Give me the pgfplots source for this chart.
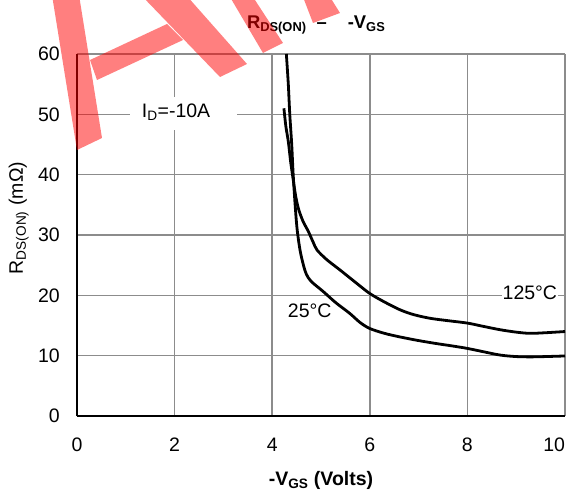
\documentclass[border=0pt]{standalone}
\usepackage{pgfplots}
\pgfplotsset{compat=1.18}
\usepackage{fontspec}
\setmainfont{Liberation Sans}
\newcommand\lab{\fontsize{19.5bp}{22bp}\selectfont}

\begin{document}
\begin{tikzpicture}
\begin{axis}[
  at={(0,0)}, anchor=south west,
  scale only axis, width=488bp, height=362bp,
  xmin=0, xmax=10, ymin=0, ymax=60,
  clip=false,
  xtick={0,2,...,10}, ytick={0,10,...,60},
  xticklabels={0,2,4,6,8,\makebox[0pt][r]{10}},
  grid=major,
  grid style={line width=1.6bp, color=black!45},
  axis lines*=left,
  x axis line style={-, line width=2.8bp, black},
  y axis line style={-, line width=2bp, black},
  major tick length=0pt,
  tick label style={font=\lab},
  /pgf/number format/assume math mode=true,
  xticklabel style={anchor=north, inner sep=0pt, yshift=-22bp},
  yticklabel style={anchor=east, inner sep=0pt, xshift=-17bp},
  xlabel={\textbf{-V\textsubscript{GS} (Volts)}},
  xlabel style={at={(axis description cs:0.5,-0.193)}, anchor=base, font=\lab, inner sep=0pt},
  ylabel={R\textsubscript{DS(ON)} (mΩ)},
  ylabel style={at={(axis description cs:-0.111,0.547)}, anchor=base, font=\lab, inner sep=0pt},
]

% label box over the grid
\fill[white] (axis cs:1.09,47.4) rectangle (axis cs:3.28,52.9);
\node[anchor=base, font=\lab, inner sep=0pt] at (axis cs:2.03,49.5) {I\textsubscript{D}=-10A};

% 25 C
\addplot[black, line width=2.8bp, smooth] coordinates {
  (4.29,60) (4.33,55) (4.36,50) (4.40,45) (4.43,40) (4.47,35) (4.51,31)
  (4.57,27.5) (4.64,25) (4.70,23.5) (4.80,22.3) (5.05,20.6) (5.3,18.8)
  (5.59,17.0) (5.8,15.5) (6.0,14.5) (6.3,13.7) (6.62,13.1) (7.0,12.5)
  (7.37,12.0) (7.7,11.6) (8.0,11.2) (8.3,10.7) (8.67,10.1) (9.0,9.85)
  (9.3,9.8) (9.6,9.85) (10,9.95)
};
% 125 C
\addplot[black, line width=2.8bp, smooth] coordinates {
  (4.24,51.0) (4.28,48) (4.33,45.5) (4.38,42) (4.43,39.2) (4.48,36.5)
  (4.54,34.3) (4.63,32.3) (4.74,30.6) (4.84,28.8) (4.92,27.5) (5.12,25.9)
  (5.39,24.2) (5.73,22.0) (6.0,20.3) (6.3,18.9) (6.62,17.6) (6.9,16.8)
  (7.23,16.2) (7.6,15.8) (8.0,15.4) (8.3,14.9) (8.67,14.3) (9.0,13.9)
  (9.28,13.7) (9.6,13.8) (10,14.0)
};

\node[anchor=base, font=\lab, inner sep=0pt] at (axis cs:4.77,16.4) {25°C};
\node[anchor=base, font=\lab, inner sep=1bp, fill=white] at (axis cs:9.28,19.24) {125°C};

\node[anchor=base west, inner sep=0pt, font=\fontsize{18.4bp}{21bp}\selectfont\bfseries]
  at (axis description cs:0.348,1.071)
  {R\textsubscript{DS(ON)}\hspace{10bp}\textendash\hspace{21bp}-V\textsubscript{GS}};
\end{axis}

% watermark
\begin{scope}[x=1bp, y=-1bp, shift={(-77bp,416bp)}]
  \fill[red, fill opacity=0.5]
    (77,150) -- (102,138) -- (79,-5) -- (52,-5) -- cycle
    (97,80) -- (183,40) -- (167,24) -- (90,60) -- cycle
    (220,77) -- (247,64) -- (186,-5) -- (141,-5) -- cycle
    (263,53) -- (283,43) -- (253,-3) -- (230,-3) -- cycle
    (313,23) -- (340,13) -- (330,-3) -- (303,-3) -- cycle;
\end{scope}

\pgfresetboundingbox
\useasboundingbox (-77bp,-75bp) rectangle (502bp,416bp);
\end{tikzpicture}
\end{document}
